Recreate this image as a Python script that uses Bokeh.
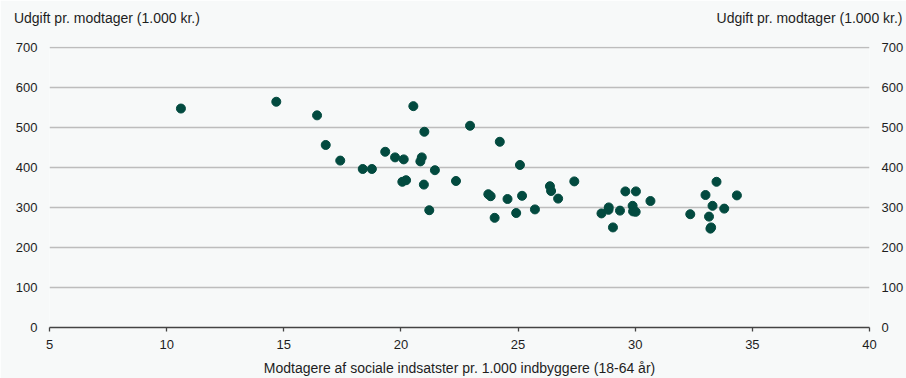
from bokeh.plotting import figure
from bokeh.models import LinearAxis, Range1d, FixedTicker, ColumnDataSource
from bokeh.embed import file_html
from bokeh.resources import INLINE

# Data
modtagere = [10.61, 14.68, 16.42, 16.79, 17.41, 18.37, 18.76, 19.33, 19.75, 20.12,
             20.53, 20.89, 20.83, 21.00, 20.06, 20.22, 20.98, 21.21, 21.45, 22.35,
             22.95, 23.73, 23.83, 24.00, 24.22, 24.55, 24.92, 25.08, 25.17, 25.72,
             26.36, 26.41, 26.71, 27.40, 28.56, 28.87, 28.86, 29.05, 29.35, 29.58,
             30.03, 29.89, 29.91, 30.02, 30.65, 32.35, 33.00, 33.15, 33.30, 33.47,
             33.24, 33.21, 33.80, 34.34]
udgift = [547, 564, 530, 456, 417, 396, 396, 439, 425, 420,
          553, 425, 415, 489, 364, 368, 357, 293, 393, 366,
          504, 333, 328, 274, 464, 321, 286, 406, 329, 295,
          353, 341, 322, 365, 285, 300, 294, 250, 292, 340,
          340, 304, 290, 289, 316, 283, 331, 277, 304, 364,
          250, 247, 297, 330]

x_ticks = [5, 10, 15, 20, 25, 30, 35, 40]
y_ticks = [0, 100, 200, 300, 400, 500, 600, 700]

y_title = "Udgift pr. modtager (1.000 kr.)"
x_title = "Modtagere af sociale indsatster pr. 1.000 indbyggere (18-64 år)"
# anchor positions (x-data) for the two top titles: left and right
y_title_pos = [7.45, 37.44]

BG = "#f7f9f9"
TXT = "#1e1e1e"
FONT = "Liberation Sans"
FS = "13px"
FS_T = "14px"
DOT = "#024a3f"

src = ColumnDataSource(dict(x=modtagere, y=udgift))

p = figure(width=906, height=378, output_backend="svg", toolbar_location=None,
           x_range=Range1d(5, 40), y_range=Range1d(0, 702),
           y_axis_location=None,
           min_border_left=49, min_border_right=35, min_border_top=46, min_border_bottom=51)
p.background_fill_color = BG
p.border_fill_color = BG
p.outline_line_color = None

# x axis
xa = p.xaxis[0]
xa.ticker = FixedTicker(ticks=x_ticks)
xa.axis_line_color = "#444444"
xa.axis_line_width = 1.3
xa.major_tick_line_color = "#444444"
xa.major_tick_line_width = 1.3
xa.major_tick_in = 0
xa.major_tick_out = 4
xa.minor_tick_line_color = None
xa.major_label_standoff = 8
xa.major_label_text_font = FONT
xa.major_label_text_font_size = FS
xa.major_label_text_color = TXT
xa.axis_label = x_title
xa.axis_label_text_font = FONT
xa.axis_label_text_font_size = FS_T
xa.axis_label_text_font_style = "normal"
xa.axis_label_text_color = TXT
xa.axis_label_standoff = 8

# y axes (left and right)
for side in ("left", "right"):
    ax = LinearAxis(ticker=FixedTicker(ticks=y_ticks))
    ax.axis_line_color = None
    ax.major_tick_line_color = None
    ax.minor_tick_line_color = None
    ax.major_tick_in = 0
    ax.major_tick_out = 0
    ax.minor_tick_in = 0
    ax.minor_tick_out = 0
    ax.major_label_standoff = 12
    ax.major_label_text_font = FONT
    ax.major_label_text_font_size = FS
    ax.major_label_text_color = TXT
    p.add_layout(ax, side)

# top "axis" used only to carry the two y-axis titles (left and right)
ta = LinearAxis(ticker=FixedTicker(ticks=y_title_pos),
                major_label_overrides={y_title_pos[0]: y_title, y_title_pos[1]: y_title})
ta.axis_line_color = None
ta.major_tick_line_color = None
ta.minor_tick_line_color = None
ta.major_tick_in = 0
ta.major_tick_out = 0
ta.minor_tick_in = 0
ta.minor_tick_out = 0
ta.major_label_standoff = 21
ta.major_label_text_font = FONT
ta.major_label_text_font_size = FS_T
ta.major_label_text_color = TXT
p.add_layout(ta, "above")

p.xgrid.grid_line_color = None
p.ygrid.ticker = FixedTicker(ticks=y_ticks[1:])
p.ygrid.grid_line_color = "#bdbdbd"
p.ygrid.grid_line_width = 1.5

p.scatter("x", "y", source=src, size=9, fill_color=DOT, line_color=DOT)

open("out.html", "w").write(file_html(p, INLINE))
